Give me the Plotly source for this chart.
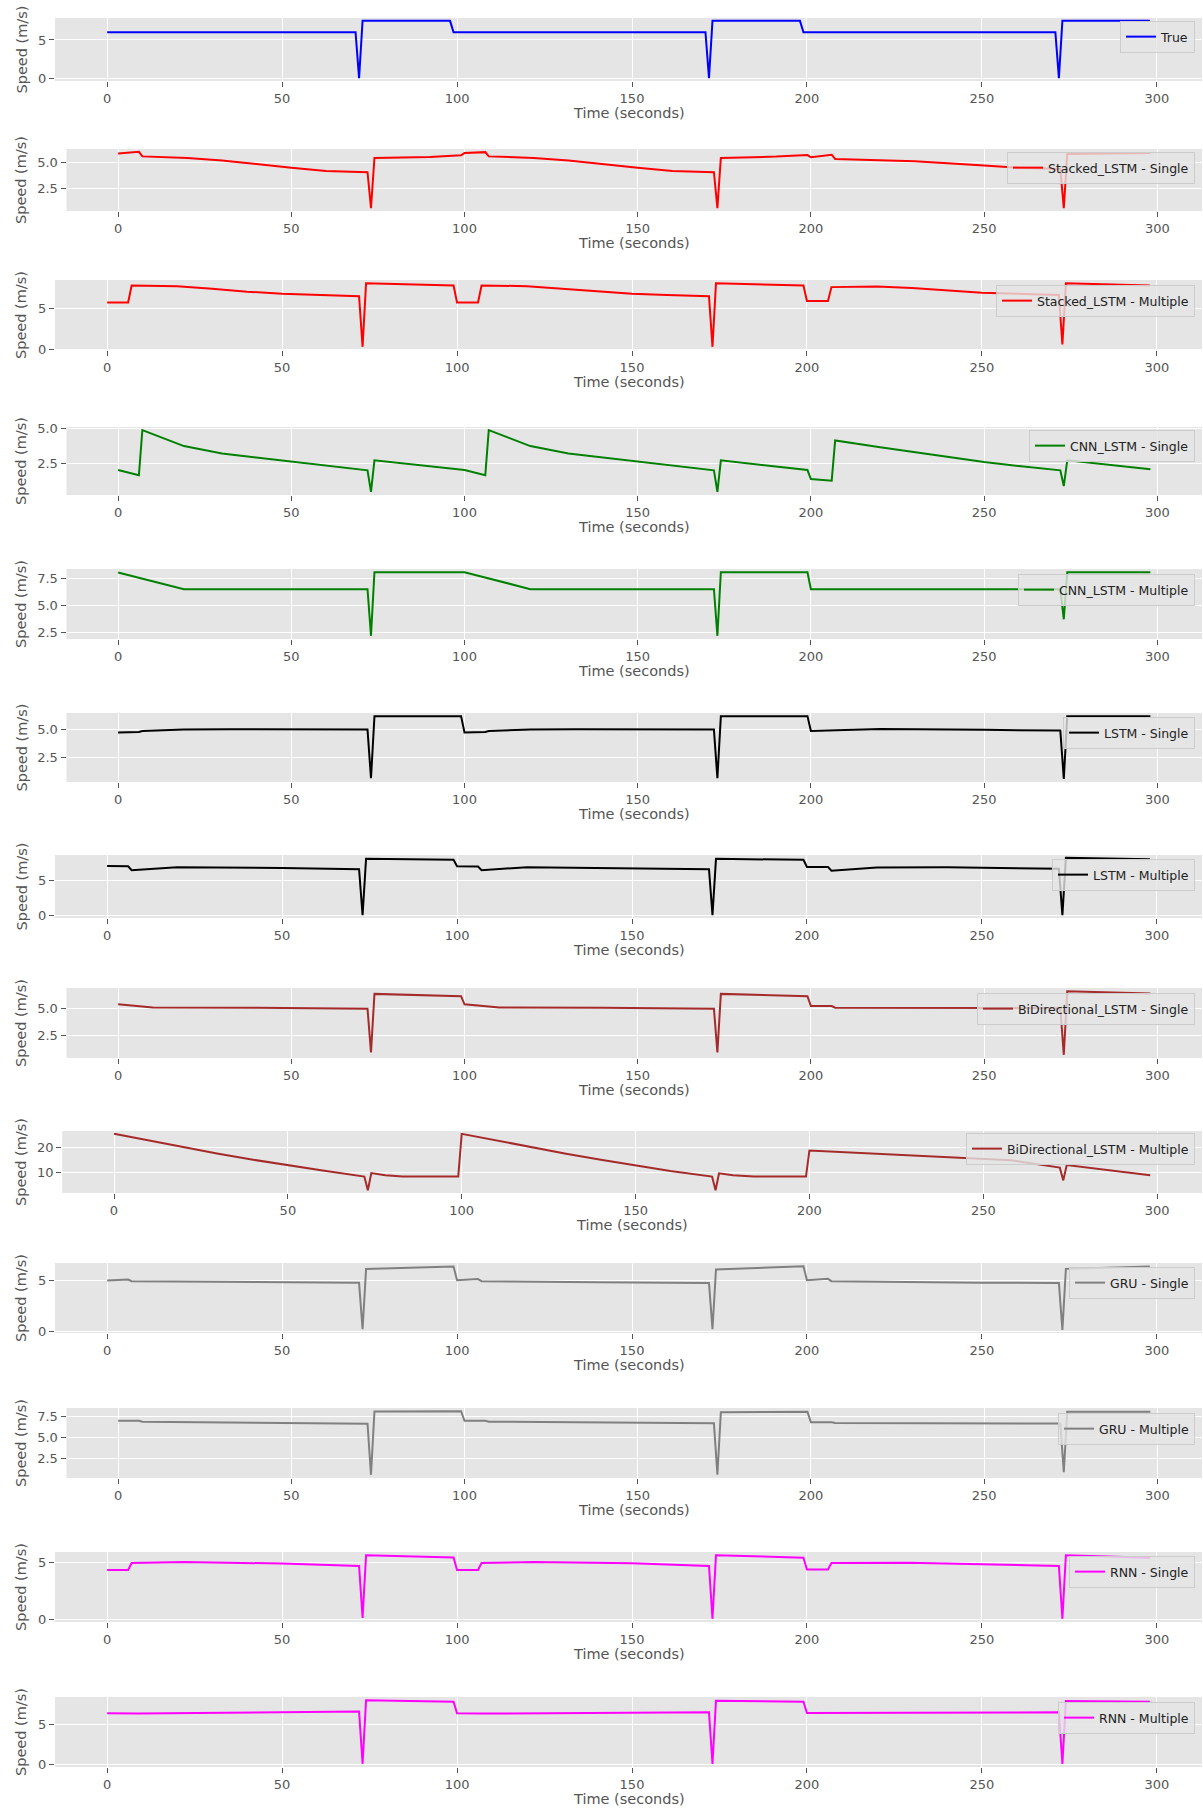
import plotly.graph_objects as go

W, H = 1203, 1814

# --- data (time in seconds, speed in m/s) ---
true_t = [0, 71, 72, 73, 98, 99, 171, 172, 173, 198, 199, 271, 272, 273, 298]
true_v = [6.0, 6.0, 0.0, 7.5, 7.5, 6.0, 6.0, 0.0, 7.5, 7.5, 6.0, 6.0, 0.0, 7.5, 7.5]

stk_single_t = [0, 6, 7, 20, 30, 40, 50, 60, 72, 73, 74, 90, 99, 100, 106, 107, 120, 130, 140, 150,
                160, 172, 173, 174, 190, 199, 200, 206, 207, 230, 250, 260, 272, 273, 274, 298]
stk_single_v = [5.91, 6.06, 5.62, 5.47, 5.22, 4.84, 4.53, 4.22, 4.09, 0.63, 5.47, 5.55, 5.72, 5.94,
                6.03, 5.62, 5.47, 5.22, 4.84, 4.53, 4.22, 4.09, 0.63, 5.47, 5.6, 5.75, 5.53, 5.78,
                5.37, 5.15, 4.75, 4.53, 4.4, 0.63, 5.84, 5.94]

stk_multi_t = [0, 6, 7, 20, 30, 40, 50, 60, 72, 73, 74, 99, 100, 106, 107, 120, 130, 140, 150, 160,
               172, 173, 174, 199, 200, 206, 207, 220, 230, 250, 260, 272, 273, 274, 298]
stk_multi_v = [5.72, 5.72, 7.8, 7.72, 7.4, 7.04, 6.8, 6.64, 6.48, 0.32, 8.08, 7.8, 5.72, 5.72, 7.8,
               7.72, 7.4, 7.04, 6.8, 6.64, 6.48, 0.32, 8.08, 7.8, 5.92, 5.92, 7.6, 7.68, 7.48, 6.92,
               6.8, 6.64, 0.6, 8.08, 7.8]

cnn_single_t = [0, 6, 7, 19, 30, 40, 50, 60, 72, 73, 74, 100, 106, 107, 119, 130, 140, 150, 160, 172,
                173, 174, 199, 200, 206, 207, 220, 235, 250, 260, 272, 273, 274, 298]
cnn_single_v = [2.01, 1.64, 4.88, 3.73, 3.2, 2.9, 2.6, 2.3, 1.99, 0.44, 2.71, 2.01, 1.64, 4.88, 3.73,
                3.2, 2.9, 2.6, 2.3, 1.99, 0.44, 2.71, 2.01, 1.36, 1.25, 4.14, 3.65, 3.1, 2.59, 2.3,
                1.99, 0.86, 2.71, 2.06]

cnn_multi_t = [0, 19, 72, 73, 74, 100, 119, 172, 173, 174, 199, 200, 272, 273, 274, 298]
cnn_multi_v = [8.06, 6.51, 6.51, 2.16, 8.09, 8.09, 6.51, 6.51, 2.16, 8.09, 8.09, 6.51, 6.51, 3.7,
               8.09, 8.09]

lstm_single_t = [0, 6, 7, 19, 32, 72, 73, 74, 99, 100, 106, 107, 119, 132, 172, 173, 174, 199, 200,
                 206, 220, 250, 272, 273, 274, 298]
lstm_single_v = [4.74, 4.79, 4.88, 5.0, 5.03, 5.0, 0.65, 6.18, 6.2, 4.74, 4.79, 4.88, 5.0, 5.03, 5.0,
                 0.65, 6.18, 6.2, 4.88, 4.92, 5.06, 4.98, 4.91, 0.6, 6.18, 6.2]

lstm_multi_t = [0, 6, 7, 20, 50, 72, 73, 74, 99, 100, 106, 107, 120, 150, 172, 173, 174, 199, 200,
                206, 207, 220, 240, 272, 273, 274, 298]
lstm_multi_v = [7.08, 7.04, 6.48, 6.9, 6.8, 6.62, 0.05, 8.1, 7.96, 7.04, 7.0, 6.48, 6.9, 6.8, 6.62,
                0.05, 8.1, 7.96, 6.95, 6.95, 6.4, 6.85, 6.9, 6.67, 0.05, 8.24, 8.05]

bi_single_t = [0, 7, 10, 40, 72, 73, 74, 99, 100, 107, 110, 140, 172, 173, 174, 199, 200, 206, 207,
               272, 273, 274, 298]
bi_single_v = [5.4, 5.21, 5.12, 5.09, 5.0, 0.95, 6.37, 6.16, 5.4, 5.21, 5.12, 5.09, 5.0, 0.95, 6.37,
               6.16, 5.24, 5.24, 5.09, 5.05, 0.73, 6.62, 6.4]

bi_multi_t = [0, 10, 20, 30, 40, 50, 60, 72, 73, 74, 78, 83, 99, 100, 110, 120, 130, 140, 150, 160,
              172, 173, 174, 178, 184, 199, 200, 258, 272, 273, 274, 298]
bi_multi_v = [25.3, 22.6, 19.9, 17.4, 15.0, 12.8, 10.7, 8.3, 2.9, 9.7, 8.8, 8.3, 8.3, 25.3, 22.6,
              19.9, 17.4, 15.0, 12.6, 10.5, 8.3, 2.9, 9.6, 8.8, 8.3, 8.3, 18.7, 14.8, 11.9, 6.8,
              12.9, 8.8]

gru_single_t = [0, 6, 7, 40, 72, 73, 74, 99, 100, 106, 107, 140, 172, 173, 174, 199, 200, 206, 207,
                250, 272, 273, 274, 298]
gru_single_v = [4.97, 5.06, 4.9, 4.8, 4.74, 0.22, 6.08, 6.33, 5.0, 5.1, 4.9, 4.8, 4.72, 0.22, 6.04,
                6.36, 5.0, 5.13, 4.9, 4.75, 4.72, 0.16, 6.1, 6.33]

gru_multi_t = [0, 6, 7, 72, 73, 74, 99, 100, 106, 107, 172, 173, 174, 199, 200, 206, 207, 272, 273,
               274, 298]
gru_multi_v = [6.98, 6.98, 6.87, 6.63, 0.48, 8.1, 8.13, 6.98, 6.98, 6.87, 6.67, 0.5, 8.0, 8.05, 6.8,
               6.8, 6.7, 6.65, 0.8, 8.05, 8.05]

rnn_single_t = [0, 6, 7, 22, 50, 72, 73, 74, 99, 100, 106, 107, 122, 150, 172, 173, 174, 199, 200,
                206, 207, 229, 250, 272, 273, 274, 298]
rnn_single_v = [4.34, 4.34, 4.94, 5.03, 4.9, 4.69, 0.14, 5.63, 5.43, 4.34, 4.34, 4.94, 5.03, 4.92,
                4.69, 0.06, 5.63, 5.4, 4.38, 4.38, 4.94, 4.97, 4.83, 4.69, 0.06, 5.63, 5.4]

rnn_multi_t = [0, 9, 72, 73, 74, 99, 100, 107, 172, 173, 174, 199, 200, 272, 273, 274, 298]
rnn_multi_v = [6.32, 6.28, 6.52, 0.12, 7.92, 7.72, 6.32, 6.28, 6.43, 0.12, 7.86, 7.74, 6.35, 6.43,
               0.12, 7.82, 7.74]

names = ["True", "Stacked_LSTM - Single", "Stacked_LSTM - Multiple", "CNN_LSTM - Single",
         "CNN_LSTM - Multiple", "LSTM - Single", "LSTM - Multiple", "BiDirectional_LSTM - Single",
         "BiDirectional_LSTM - Multiple", "GRU - Single", "GRU - Multiple", "RNN - Single",
         "RNN - Multiple"]
times = [true_t, stk_single_t, stk_multi_t, cnn_single_t, cnn_multi_t, lstm_single_t, lstm_multi_t,
         bi_single_t, bi_multi_t, gru_single_t, gru_multi_t, rnn_single_t, rnn_multi_t]
speeds = [true_v, stk_single_v, stk_multi_v, cnn_single_v, cnn_multi_v, lstm_single_v, lstm_multi_v,
          bi_single_v, bi_multi_v, gru_single_v, gru_multi_v, rnn_single_v, rnn_multi_v]
colors = ["#0000ff", "#ff0000", "#ff0000", "#008000", "#008000", "#000000", "#000000",
          "#a52a2a", "#a52a2a", "#808080", "#808080", "#ff00ff", "#ff00ff"]
ydticks = [5, 2.5, 5, 2.5, 2.5, 2.5, 5, 2.5, 10, 5, 2.5, 5, 5]

# layout of each axes box in pixels: left, top, bottom ; legend top
lefts = [55, 66.5, 55, 66.5, 66.5, 66.5, 55, 66.5, 62.2, 55, 66.5, 55, 55]
tops = [18, 149, 280, 427, 569, 713, 855, 988, 1131, 1263, 1408, 1552, 1697]
bottoms = [81, 211, 350, 495, 639, 782, 918, 1058, 1193, 1333, 1478, 1622, 1767]
leg_tops = [21, 152, 285, 430, 574, 717, 859, 993, 1133, 1267, 1413, 1556, 1702]
RIGHT = 1202

FONT = "DejaVu Sans, sans-serif"
GREY = "#555555"

fig = go.Figure()
annotations = []
layout = dict(
    width=W, height=H, margin=dict(l=0, r=0, t=0, b=0, autoexpand=False),
    paper_bgcolor="white", plot_bgcolor="#e5e5e5", showlegend=True,
    font=dict(family=FONT, color=GREY, size=12.5),
)

for i in range(13):
    n = "" if i == 0 else str(i + 1)
    t, v = times[i], speeds[i]
    fig.add_trace(go.Scatter(
        x=t, y=v, mode="lines", name=names[i], showlegend=True,
        line=dict(color=colors[i], width=2),
        xaxis="x" + n, yaxis="y" + n, legend="legend" + n,
    ))
    tpad = (max(t) - min(t)) * 0.05
    vpad = (max(v) - min(v)) * 0.05
    ydom = [1 - bottoms[i] / H, 1 - tops[i] / H]
    axis_common = dict(
        showgrid=True, gridcolor="white", gridwidth=1.2, automargin=False,
        zeroline=True, zerolinecolor="white", zerolinewidth=1.2,
        showline=False, ticks="outside", ticklen=5, tickwidth=1, tickcolor=GREY,
        tickfont=dict(family=FONT, size=13, color=GREY),
    )
    layout["xaxis" + n] = dict(
        domain=[lefts[i] / W, RIGHT / W], anchor="y" + n,
        range=[min(t) - tpad, max(t) + tpad], tick0=0, dtick=50, **axis_common,
    )
    layout["yaxis" + n] = dict(
        domain=ydom, anchor="x" + n,
        range=[min(v) - vpad, max(v) + vpad], tick0=0, dtick=ydticks[i],
        tickformat=".1f" if ydticks[i] == 2.5 else "d", **axis_common,
    )
    layout["legend" + n] = dict(
        x=1195 / W, xanchor="right", y=1 - leg_tops[i] / H, yanchor="top",
        bgcolor="rgba(229,229,229,0.8)", bordercolor="#cccccc", borderwidth=1,
        font=dict(family=FONT, size=12.5, color="#222222"),
        itemwidth=30, tracegroupgap=0,
    )
    annotations.append(dict(
        text="Speed (m/s)", x=21 / W, y=(ydom[0] + ydom[1]) / 2, xref="paper", yref="paper",
        xanchor="center", yanchor="middle", textangle=-90, showarrow=False,
        font=dict(family=FONT, size=14.5, color=GREY),
    ))
    annotations.append(dict(
        text="Time (seconds)", x=(lefts[i] + RIGHT) / 2 / W, y=1 - (bottoms[i] + 32) / H,
        xref="paper", yref="paper", xanchor="center", yanchor="middle", showarrow=False,
        font=dict(family=FONT, size=14.5, color=GREY),
    ))

layout["annotations"] = annotations
fig.update_layout(**layout)

# the page's default body margin would shift the figure and add a scrollbar
fig.write_html(
    "out.html",
    config={"displayModeBar": False},
    post_script="document.body.style.margin='0';document.body.style.overflow='hidden';",
)
